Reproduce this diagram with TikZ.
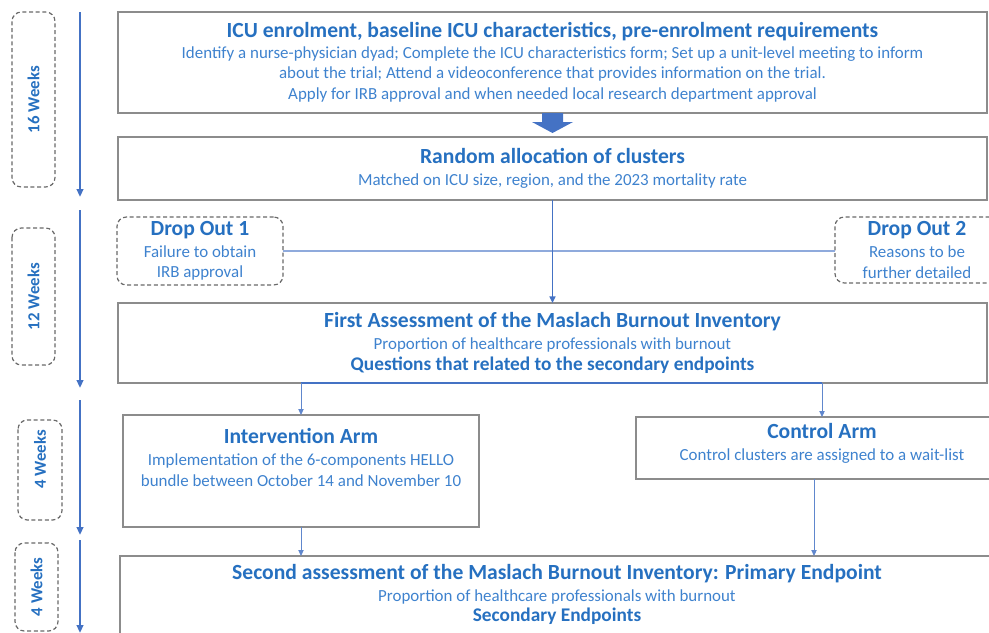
\documentclass[tikz,border=0pt]{standalone}
\usepackage{fontspec}
\setmainfont{Carlito}
\usetikzlibrary{positioning,calc,arrows.meta}

\definecolor{titleblue}{RGB}{38,112,192}
\definecolor{bodyblue}{RGB}{62,130,206}
\definecolor{arrowblue}{RGB}{68,114,196}
\definecolor{lineblue}{RGB}{143,170,220}
\definecolor{boxgray}{RGB}{140,140,140}
\definecolor{dashgray}{RGB}{105,105,105}

\newcommand{\bodyfont}{\fontsize{12.7}{15.4}\selectfont}
\newcommand{\steptitle}[1]{{\color{titleblue}\fontsize{16.2}{17}\selectfont\bfseries #1}}
\newcommand{\stepnote}[1]{{\color{titleblue}\fontsize{14.5}{16}\selectfont\bfseries #1}}

\tikzstyle{stagebox} = [rectangle,
                        draw=boxgray,
                        line width=1.1pt,
                        inner sep=0pt,
                        outer sep=0pt,
                        align=center,
                        text=bodyblue,
                        font=\bodyfont]
\tikzstyle{stagetext} = [inner sep=0pt,
                         align=center,
                         text=bodyblue,
                         font=\bodyfont]
\tikzstyle{dropbox} = [rectangle,
                       rounded corners=7pt,
                       draw=dashgray,
                       dash pattern=on 3pt off 2pt,
                       line width=0.9pt,
                       inner sep=0pt,
                       outer sep=0pt,
                       align=center,
                       text=bodyblue,
                       font=\bodyfont]
\tikzstyle{weekbox} = [dropbox,
                       rotate=90,
                       text=titleblue,
                       font=\fontsize{12.6}{14}\selectfont\bfseries]
\tikzstyle{timeline} = [arrowblue, line width=1.7pt, -{Triangle[length=6pt,width=5pt]}]
\tikzstyle{flow} = [arrowblue, line width=1.1pt, -{Triangle[length=5pt,width=4.5pt]}]
\tikzstyle{thinflow} = [arrowblue!85, line width=0.7pt, -{Triangle[length=4.5pt,width=4pt]}]
\tikzstyle{branch} = [arrowblue, line width=1.3pt]
\tikzstyle{dropline} = [lineblue, line width=0.8pt]

\begin{document}
\begin{tikzpicture}[x=0.75pt, y=-0.75pt]
\useasboundingbox (0,0) rectangle (989,632);

% time scale
\node [weekbox, minimum width=131.25pt, minimum height=32.25pt] (wk16) at (33.5,99.5) {16 Weeks};
\node [weekbox, minimum width=102.75pt, minimum height=32.25pt] (wk12) at (33.5,296.5) {12 Weeks};
\node [weekbox, minimum width=75pt, minimum height=33pt] (wk4a) at (40,470) {\hspace*{16pt}4 Weeks};
\node [weekbox, minimum width=66pt, minimum height=32.25pt] (wk4b) at (36.5,587) {4 Weeks};

\coordinate (ta) at (80,12);   \coordinate (tb) at (80,197);
\coordinate (tc) at (80,210);  \coordinate (td) at (80,388);
\coordinate (te) at (80,400);  \coordinate (tf) at (80,535);
\coordinate (tg) at (80,540);  \coordinate (th) at (80,633);
\draw [timeline] (ta) -- (tb);
\draw [timeline] (tc) -- (td);
\draw [timeline] (te) -- (tf);
\draw [timeline] (tg) -- (th);

% stages
\node [stagebox, minimum width=651.75pt, minimum height=75.75pt] (enrol) at (552.5,62.5)
  {\steptitle{ICU enrolment, baseline ICU characteristics, pre-enrolment requirements}\\
   Identify a nurse-physician dyad; Complete the ICU characteristics form; Set up a unit-level meeting to inform\\
   about the trial; Attend a videoconference that provides information on the trial.\\
   Apply for IRB approval and when needed local research department approval};
\node [stagebox, minimum width=651.75pt, minimum height=47.25pt] (alloc) at (552.5,168.5)
  {\steptitle{Random allocation of clusters}\\[1pt]
   Matched on ICU size, region, and the 2023 mortality rate};
\node [dropbox, minimum width=124.5pt, minimum height=51pt] (drop1) at (200,251)
  {\steptitle{Drop Out 1}\\[1pt] Failure to obtain\\ IRB approval};
\node [dropbox, minimum width=123pt, minimum height=49.5pt] (drop2) at (917,250)
  {\steptitle{Drop Out 2}\\[1pt] Reasons to be\\ further detailed};
\node [stagebox, minimum width=651.75pt, minimum height=60pt] (first) at (552.5,343)
  {\steptitle{First Assessment of the Maslach Burnout Inventory}\\[1pt]
   Proportion of healthcare professionals with burnout\\
   \stepnote{Questions that related to the secondary endpoints}};
\node [stagebox, minimum width=267pt, minimum height=84pt] (iarm) at (301,471) {};
\node [stagetext, below=10pt of iarm.north] (iarmtext)
  {\steptitle{Intervention Arm}\\[1pt]
   Implementation of the 6-components HELLO\\
   bundle between October 14 and November 10};
\node [stagebox, minimum width=279pt, minimum height=46.5pt] (carm) at (822,448) {};
\node [stagetext, below=4.5pt of carm.north] (carmtext)
  {\steptitle{Control Arm}\\[1pt]
   Control clusters are assigned to a wait-list};
\node [stagebox, minimum width=655.5pt, minimum height=112.5pt] (second) at (557,631) {};
\node [stagetext, below=6pt of second.north] (secondtext)
  {\steptitle{Second assessment of the Maslach Burnout Inventory: Primary Endpoint}\\[1pt]
   Proportion of healthcare professionals with burnout\\
   \stepnote{Secondary Endpoints}};

% connectors
\fill [arrowblue] ($(enrol.south)+(-10.5,0)$) -- ++(0,9) -- ++(-10,0)
  -- ($(enrol.south)+(0,20)$) -- ($(enrol.south)+(20.5,9)$) -- ++(-10,0) -- ++(0,-9) -- cycle;
\draw [dropline] (drop1.east) -- (drop1.east -| drop2.west);
\draw [flow] (alloc.south) -- (first.north);
\coordinate (split) at (first.south -| iarm.north);
\draw [branch] (split) -- (split -| carm.north);
\draw [thinflow] (split) -- (iarm.north);
\draw [thinflow] (split -| carm.north) -- (carm.north);
\coordinate (carmout) at ($(carm.south)+(-8,0)$);
\draw [thinflow] (iarm.south) -- (iarm.south |- second.north);
\draw [thinflow] (carmout) -- (carmout |- second.north);
\end{tikzpicture}
\end{document}
